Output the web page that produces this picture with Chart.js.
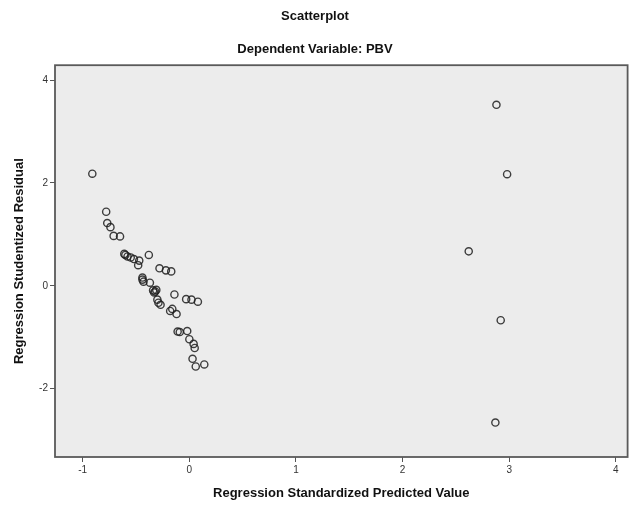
<!DOCTYPE html>
<html>
<head>
<meta charset="utf-8">
<script src="https://cdn.jsdelivr.net/npm/chart.js@4/dist/chart.umd.min.js"></script>
<style>
  html, body { margin: 0; padding: 0; background: #fff; }
  #wrap { width: 633px; height: 506px; }
</style>
</head>
<body>
<div id="wrap"><canvas id="plot"></canvas></div>
<script>
// Predicted values (x) and studentized residuals (y)
const predicted = [
    -0.91, -0.78, -0.77, -0.74, -0.71, -0.65, -0.61, -0.60, -0.58, -0.55,
    -0.52, -0.47, -0.48, -0.38, -0.28, -0.22, -0.17, -0.44, -0.44, -0.43,
    -0.37, -0.34, -0.33, -0.32, -0.31, -0.14, -0.30, -0.29, -0.27, -0.03,
    0.02, 0.08, -0.18, -0.16, -0.12, -0.11, -0.09, -0.02, 0.00, 0.04,
    0.05, 0.03, 0.06, 0.14,
    2.88, 2.98, 2.62, 2.92, 2.87
];
const residuals = [
    2.18, 1.44, 1.22, 1.14, 0.97, 0.96, 0.62, 0.60, 0.57, 0.55,
    0.52, 0.49, 0.40, 0.60, 0.34, 0.30, 0.28, 0.16, 0.12, 0.08,
    0.06, -0.09, -0.13, -0.11, -0.08, -0.17, -0.27, -0.33, -0.37, -0.26,
    -0.27, -0.31, -0.49, -0.45, -0.55, -0.89, -0.90, -0.88, -1.04, -1.13,
    -1.21, -1.42, -1.57, -1.53,
    3.52, 2.17, 0.67, -0.67, -2.66
];
const xTicks = [-1, 0, 1, 2, 3, 4];
const yTicks = [-2, 0, 2, 4];

const points = predicted.map((x, i) => ({ x: x, y: residuals[i] }));

// grey plot background + frame round the plot area
const plotFrame = {
    id: 'plotFrame',
    beforeDraw(chart) {
        const a = chart.chartArea;
        const ctx = chart.ctx;
        ctx.save();
        ctx.fillStyle = '#ececec';
        ctx.fillRect(a.left, a.top, a.right - a.left, a.bottom - a.top);
        ctx.restore();
    },
    afterDraw(chart) {
        const a = chart.chartArea;
        const ctx = chart.ctx;
        ctx.save();
        ctx.strokeStyle = '#5a5a5a';
        ctx.lineWidth = 1.8;
        ctx.strokeRect(a.left, a.top, a.right - a.left, a.bottom - a.top);
        ctx.restore();
    }
};

const tickFont = { family: 'Liberation Sans, Arial, sans-serif', size: 10 };
const labelFont = { family: 'Liberation Sans, Arial, sans-serif', size: 13, weight: 'bold' };

new Chart(document.getElementById('plot'), {
    type: 'scatter',
    data: {
        datasets: [{
            data: points,
            pointStyle: 'circle',
            pointRadius: 3.6,
            pointBorderWidth: 1.4,
            pointBorderColor: 'rgba(30, 30, 30, 0.85)',
            pointBackgroundColor: 'rgba(0, 0, 0, 0)'
        }]
    },
    plugins: [plotFrame],
    options: {
        responsive: true,
        maintainAspectRatio: false,
        animation: false,
        layout: { padding: { top: 0, right: 3, bottom: 0, left: 0 } },
        plugins: {
            legend: { display: false },
            tooltip: { enabled: false },
            title: {
                display: true,
                text: 'Scatterplot',
                color: '#111',
                font: labelFont,
                padding: { top: 9, bottom: 17 }
            },
            subtitle: {
                display: true,
                text: 'Dependent Variable: PBV',
                color: '#111',
                font: labelFont,
                padding: { top: 0, bottom: 8 }
            }
        },
        scales: {
            x: {
                type: 'linear',
                min: -1.26,
                max: 4.11,
                afterBuildTicks(scale) {
                    scale.ticks = xTicks.map(v => ({ value: v }));
                },
                afterFit(scale) { scale.height = 49; },
                grid: { drawOnChartArea: false, drawTicks: true, tickLength: 5, color: '#555', lineWidth: 1 },
                border: { display: false },
                ticks: { color: '#333', font: tickFont, padding: 2, maxRotation: 0 },
                title: {
                    display: true,
                    text: 'Regression Standardized Predicted Value',
                    color: '#111',
                    font: labelFont,
                    padding: { top: 4, bottom: 5 }
                }
            },
            y: {
                type: 'linear',
                min: -3.33,
                max: 4.29,
                afterBuildTicks(scale) {
                    scale.ticks = yTicks.map(v => ({ value: v }));
                },
                afterFit(scale) { scale.width = 55; },
                grid: { drawOnChartArea: false, drawTicks: true, tickLength: 5, color: '#555', lineWidth: 1 },
                border: { display: false },
                ticks: { color: '#333', font: tickFont, padding: 2 },
                title: {
                    display: true,
                    text: 'Regression Studentized Residual',
                    color: '#111',
                    font: labelFont,
                    padding: { top: 12, bottom: 4 }
                }
            }
        }
    }
});
</script>
</body>
</html>
